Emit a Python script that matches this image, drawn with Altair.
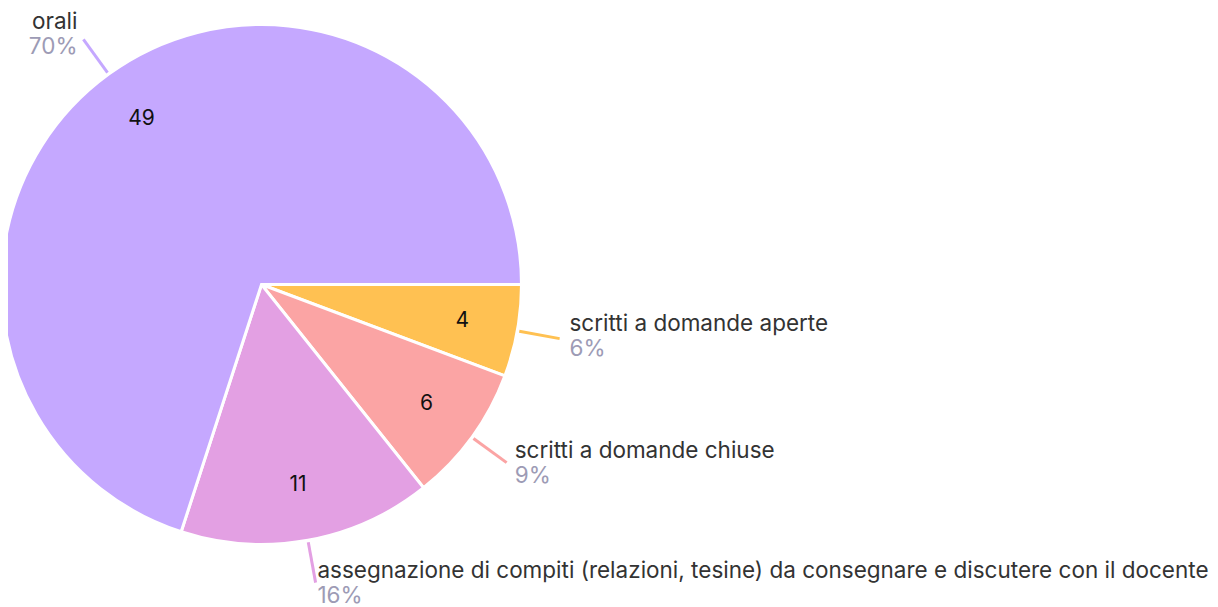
import math
import altair as alt
import pandas as pd

categories = [
    "scritti a domande aperte",
    "scritti a domande chiuse",
    "assegnazione di compiti (relazioni, tesine) da consegnare e discutere con il docente",
    "orali",
]
values = [4, 6, 11, 49]
order = [0, 1, 2, 3]
colors = ["#FFC152", "#FBA4A4", "#E3A0E3", "#C5A8FF"]

df = pd.DataFrame({"cat": categories, "value": values, "idx": order})

W, H = 1202, 599
CX, CY = 253.5, 276.5
R = 260
FONT = "Inter"
FS = 22.5

color = alt.Color("cat:N", scale=alt.Scale(domain=categories, range=colors), legend=None)
theta_scale = alt.Scale(range=[math.pi / 2, math.pi / 2 + 2 * math.pi])

base = alt.Chart(df)

arcs = base.mark_arc(outerRadius=R, stroke="white", strokeWidth=3).encode(
    theta=alt.Theta("value:Q", stack=True, scale=theta_scale),
    order=alt.Order("idx:Q"),
    color=color,
    x=alt.value(CX),
    y=alt.value(CY),
)

inner = base.mark_text(radius=204, fontSize=21, font=FONT, color="#111111").encode(
    theta=alt.Theta("value:Q", stack=True, scale=theta_scale),
    order=alt.Order("idx:Q"),
    text=alt.Text("value:Q"),
    x=alt.value(CX),
    y=alt.value(CY),
)

geo = (
    base.transform_joinaggregate(total="sum(value)")
    .transform_window(cum="sum(value)", sort=[alt.SortField("idx")], frame=[None, 0])
    .transform_calculate(
        mid="PI/2 + 2*PI*(datum.cum - datum.value/2)/datum.total",
        pct="format(datum.value/datum.total, '.0%')",
    )
    .transform_calculate(
        sx=f"{CX} + {R + 2}*sin(datum.mid)",
        sy=f"{CY} - {R + 2}*cos(datum.mid)",
        ex=f"{CX} + {R + 43}*sin(datum.mid)",
        ey=f"{CY} - {R + 43}*cos(datum.mid)",
    )
    .transform_calculate(
        lx="datum.ex + 10*sin(datum.mid)",
        my0="datum.ey - 4 - 9*cos(datum.mid)",
    )
    .transform_calculate(
        my=f"min(max(datum.my0, 26.5), {H} - 24)",
    )
    .transform_calculate(
        ny="datum.my - 12.5",
        py="datum.my + 12.5",
    )
)

leaders = geo.mark_rule(strokeWidth=3).encode(
    x=alt.X("sx:Q", scale=None),
    y=alt.Y("sy:Q", scale=None),
    x2="ex:Q",
    y2="ey:Q",
    color=color,
)

def label_layers(side_filter, align):
    g = geo.transform_filter(side_filter)
    name = g.mark_text(align=align, baseline="middle", fontSize=FS, font=FONT, color="#333333").encode(
        x=alt.X("lx:Q", scale=None),
        y=alt.Y("ny:Q", scale=None),
        text="cat:N",
    )
    pct = g.mark_text(align=align, baseline="middle", fontSize=FS, font=FONT, color="#9D9BB5").encode(
        x=alt.X("lx:Q", scale=None),
        y=alt.Y("py:Q", scale=None),
        text="pct:N",
    )
    return [name, pct]

right_labels = label_layers("sin(datum.mid) >= 0", "left")
left_labels = label_layers("sin(datum.mid) < 0", "right")

chart = (
    alt.layer(arcs, inner, leaders, *right_labels, *left_labels)
    .properties(width=W, height=H, autosize=alt.AutoSizeParams(type="none"), padding=0)
    .configure_view(stroke=None)
)

chart.save("out.html", embed_options={"renderer": "svg", "actions": False})
